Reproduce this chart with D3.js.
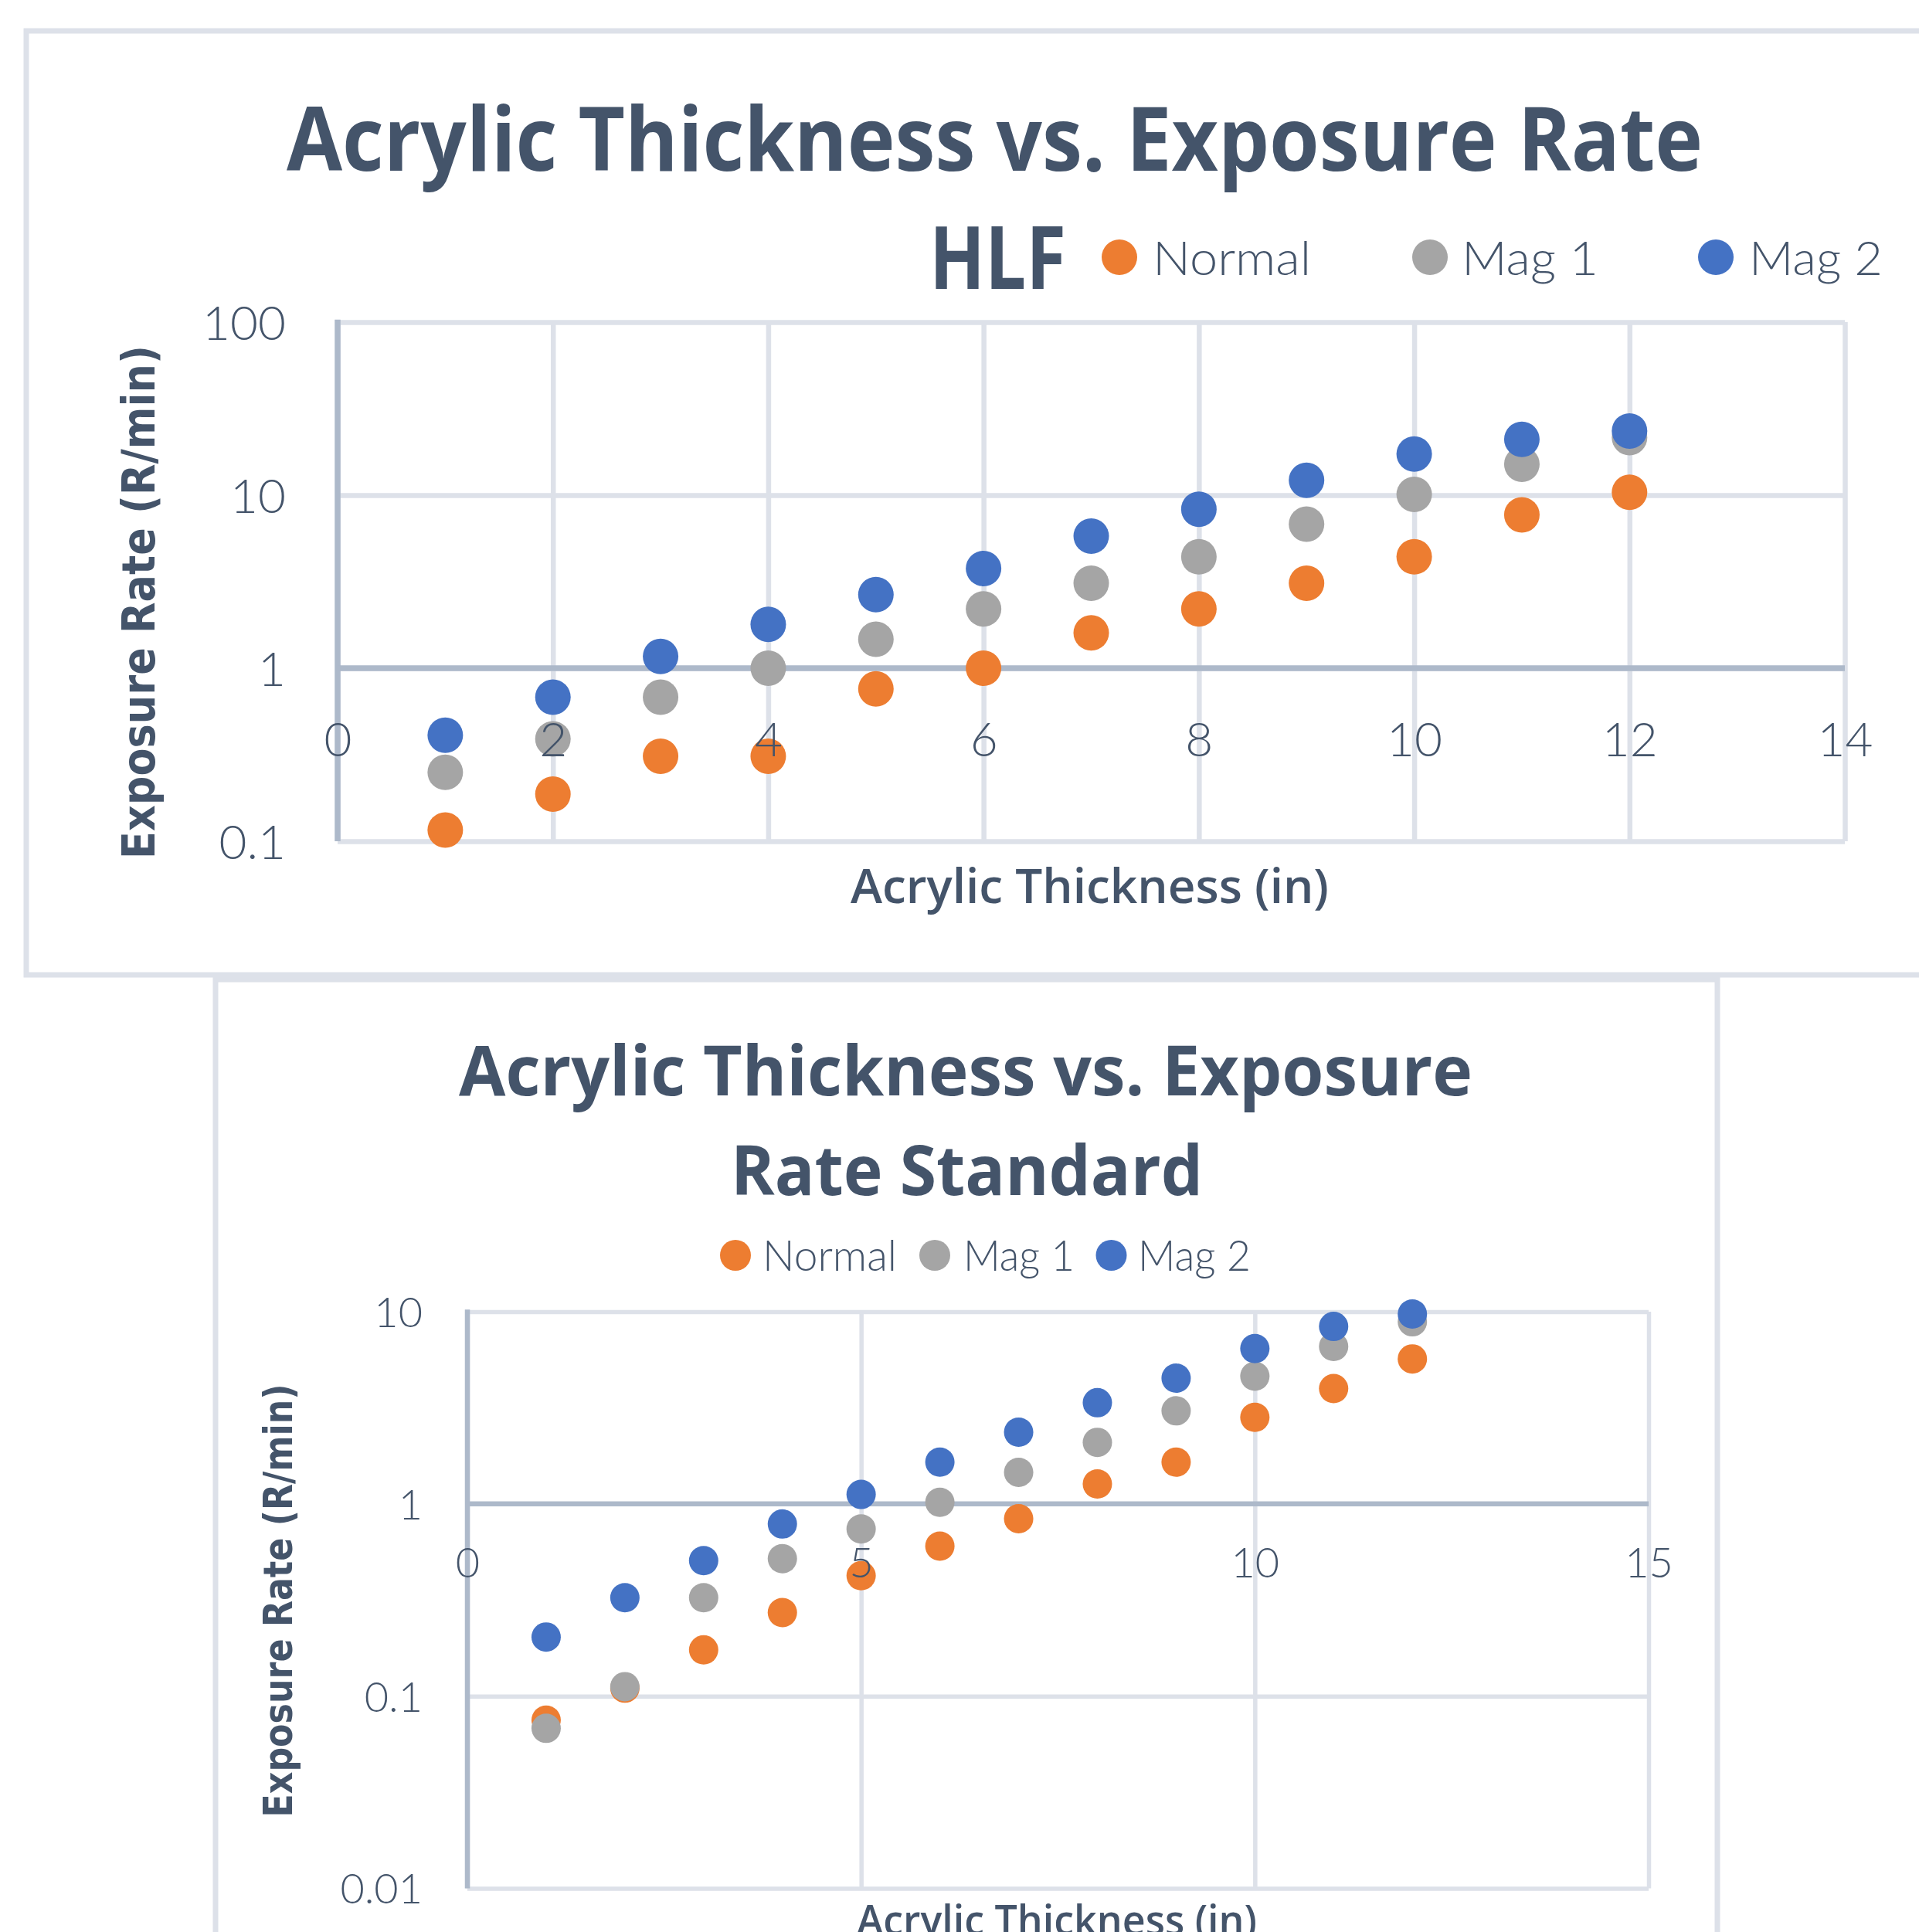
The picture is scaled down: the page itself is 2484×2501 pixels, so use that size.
<!DOCTYPE html>
<html>
<head>
<meta charset="utf-8">
<script src="https://cdn.jsdelivr.net/npm/d3@7"></script>
<style>
  html, body { margin: 0; padding: 0; background: #ffffff; }
  svg { display: block; }
</style>
</head>
<body>
<script>
// ---- data ----
const thickness = [1, 2, 3, 4, 5, 6, 7, 8, 9, 10, 11, 12];
const seriesNames = ["Normal", "Mag 1", "Mag 2"];
const seriesColors = ["#ED7D31", "#A5A5A5", "#4472C4"];

// HLF exposure rates (R/min)
const hlfNormal = [0.116, 0.187, 0.31, 0.31, 0.76, 1.0, 1.6, 2.2, 3.1, 4.4, 7.7, 10.4];
const hlfMag1   = [0.25, 0.39, 0.68, 1.0, 1.47, 2.2, 3.1, 4.4, 6.8, 10.1, 15.1, 21.5];
const hlfMag2   = [0.41, 0.68, 1.17, 1.79, 2.66, 3.77, 5.8, 8.3, 12.2, 17.3, 21.0, 23.5];

// Standard exposure rates (R/min)
const stdNormal = [0.075, 0.11, 0.174, 0.272, 0.423, 0.603, 0.838, 1.27, 1.65, 2.82, 3.98, 5.68];
const stdMag1   = [0.068, 0.112, 0.325, 0.519, 0.741, 1.02, 1.46, 2.09, 3.05, 4.62, 6.59, 8.86];
const stdMag2   = [0.203, 0.325, 0.507, 0.786, 1.12, 1.65, 2.36, 3.36, 4.51, 6.43, 8.38, 9.73];

// axis ticks
const hlfXTicks = [0, 2, 4, 6, 8, 10, 12, 14];
const hlfYTicks = [0.1, 1, 10, 100];
const hlfYTickLabels = ["0.1", "1", "10", "100"];
const stdXTicks = [0, 5, 10, 15];
const stdYTicks = [0.01, 0.1, 1, 10];
const stdYTickLabels = ["0.01", "0.1", "1", "10"];

// ---- styling ----
const W = 2484, H = 2501;
const TEXT = "#44546A";
const GRID = "#DDE1E9";
const AXIS = "#ADB9CA";
const TITLE_FONT = "'Open Sans', 'Noto Sans', sans-serif";
const LIGHT_FONT = "Lato, 'Open Sans', sans-serif";
const YTITLE_FONT = "'DejaVu Sans', Verdana, sans-serif";

const svg = d3.select("body").append("svg")
  .attr("width", W).attr("height", H)
  .attr("viewBox", `0 0 ${W} ${H}`);

svg.append("rect").attr("width", W).attr("height", H).attr("fill", "#ffffff");

function addText(parent, str, o) {
  const t = parent.append("text")
    .attr("x", o.x).attr("y", o.y)
    .attr("fill", TEXT)
    .attr("font-family", o.family)
    .attr("font-size", o.size)
    .attr("font-weight", o.weight || 400)
    .attr("text-anchor", o.anchor || "start")
    .text(str);
  if (o.length) t.attr("textLength", o.length).attr("lengthAdjust", "spacingAndGlyphs");
  if (o.transform) t.attr("transform", o.transform);
  return t;
}

// chart frames
svg.append("rect")
  .attr("x", 34).attr("y", 40).attr("width", 2620).attr("height", 1222)
  .attr("fill", "#ffffff").attr("stroke", GRID).attr("stroke-width", 7);
svg.append("rect")
  .attr("x", 279).attr("y", 1268).attr("width", 1944).attr("height", 1400)
  .attr("fill", "#ffffff").attr("stroke", GRID).attr("stroke-width", 7);

function drawPlot(cfg) {
  const x = d3.scaleLinear().domain(cfg.xDomain).range(cfg.xRange);
  const y = d3.scaleLog().domain(cfg.yDomain).range(cfg.yRange);
  const g = svg.append("g");
  const top = cfg.yRange[1], bottom = cfg.yRange[0];
  const left = cfg.xRange[0], right = cfg.xRange[1];

  // vertical gridlines
  const vg = g.append("g").attr("transform", `translate(0,${bottom})`)
    .call(d3.axisBottom(x).tickValues(cfg.xTicks).tickSize(-(bottom - top)).tickFormat(""));
  vg.select(".domain").remove();
  vg.selectAll("line").attr("stroke", GRID).attr("stroke-width", cfg.gridW);

  // horizontal gridlines
  const hg = g.append("g").attr("transform", `translate(${left},0)`)
    .call(d3.axisLeft(y).tickValues(cfg.yTicks).tickSize(-(right - left)).tickFormat(""));
  hg.select(".domain").remove();
  hg.selectAll("line").attr("stroke", GRID).attr("stroke-width", cfg.gridW);

  // axis lines: value axis at x = 0, category axis crossing at y = 1
  g.append("line")
    .attr("x1", x(cfg.xDomain[0])).attr("x2", x(cfg.xDomain[0]))
    .attr("y1", top - cfg.gridW / 2).attr("y2", bottom)
    .attr("stroke", AXIS).attr("stroke-width", cfg.axisW);
  g.append("line")
    .attr("x1", left).attr("x2", right)
    .attr("y1", y(1)).attr("y2", y(1))
    .attr("stroke", AXIS).attr("stroke-width", cfg.axisW);

  // markers, Normal drawn first so Mag 2 sits on top
  cfg.series.forEach((vals, si) => {
    g.append("g").selectAll("circle")
      .data(thickness.map((t, i) => [t, vals[i]]))
      .join("circle")
      .attr("cx", d => x(d[0]))
      .attr("cy", d => y(d[1]))
      .attr("r", cfg.r)
      .attr("fill", seriesColors[si]);
  });

  // x tick labels hang below the crossing line, drawn over the markers
  const xa = g.append("g").attr("transform", `translate(0,${y(1)})`)
    .call(d3.axisBottom(x).tickValues(cfg.xTicks).tickSize(0).tickFormat(d3.format("d")));
  xa.select(".domain").remove();
  xa.selectAll("text")
    .attr("y", cfg.xLabelOffset).attr("dy", "0.36em")
    .attr("fill", TEXT).attr("font-family", LIGHT_FONT)
    .attr("font-weight", 300).attr("font-size", cfg.tickSize);

  // y tick labels
  const ya = g.append("g").attr("transform", `translate(${left},0)`)
    .call(d3.axisLeft(y).tickValues(cfg.yTicks).tickSize(0)
      .tickFormat((d, i) => cfg.yTickLabels[i]));
  ya.select(".domain").remove();
  ya.selectAll("text")
    .attr("x", -cfg.yLabelPad).attr("dy", "0.36em")
    .attr("fill", TEXT).attr("font-family", LIGHT_FONT)
    .attr("font-weight", 300).attr("font-size", cfg.tickSize);
}

// legend entries
function drawLegend(items) {
  items.forEach((it, i) => {
    svg.append("circle").attr("cx", it.cx).attr("cy", it.cy).attr("r", it.r)
      .attr("fill", seriesColors[i]);
    addText(svg, seriesNames[i], {
      x: it.tx, y: it.ty, size: it.size, family: LIGHT_FONT, weight: 300, length: it.len
    });
  });
}

// ---------- HLF chart ----------
addText(svg, "Acrylic Thickness vs. Exposure Rate", {
  x: 371, y: 221, size: 114, weight: 700, family: TITLE_FONT, length: 1833
});
addText(svg, "HLF", { x: 1203, y: 374, size: 113, weight: 700, family: TITLE_FONT, length: 177 });
drawLegend([
  { cx: 1449, cy: 333, r: 23, tx: 1492, ty: 356, size: 62, len: 205 },
  { cx: 1851, cy: 333, r: 23, tx: 1892, ty: 356, size: 62, len: 177 },
  { cx: 2221, cy: 333, r: 23, tx: 2264, ty: 356, size: 62, len: 173 }
]);
drawPlot({
  xDomain: [0, 14], xRange: [437, 2388],
  yDomain: [0.1, 100], yRange: [1089, 417],
  xTicks: hlfXTicks, yTicks: hlfYTicks, yTickLabels: hlfYTickLabels,
  series: [hlfNormal, hlfMag1, hlfMag2],
  r: 23, gridW: 6.5, axisW: 7.5, tickSize: 62, yLabelPad: 67, xLabelOffset: 92
});
addText(svg, "Exposure Rate (R/min)", {
  x: 0, y: 0, size: 59, weight: 700, family: YTITLE_FONT, anchor: "middle", length: 665,
  transform: "translate(200,779.5) rotate(-90)"
});
addText(svg, "Acrylic Thickness (in)", {
  x: 1410.5, y: 1169, size: 62, weight: 600, family: TITLE_FONT, anchor: "middle", length: 619
});

// ---------- Standard chart ----------
addText(svg, "Acrylic Thickness vs. Exposure", {
  x: 594, y: 1417.5, size: 90, weight: 700, family: TITLE_FONT, length: 1312
});
addText(svg, "Rate Standard", {
  x: 946, y: 1547, size: 90, weight: 700, family: TITLE_FONT, length: 611
});
drawLegend([
  { cx: 952, cy: 1625, r: 20, tx: 987, ty: 1645, size: 55, len: 174 },
  { cx: 1210, cy: 1625, r: 20, tx: 1247, ty: 1645, size: 55, len: 144 },
  { cx: 1438.5, cy: 1625, r: 20, tx: 1473, ty: 1645, size: 55, len: 146 }
]);
drawPlot({
  xDomain: [0, 15], xRange: [605, 2134],
  yDomain: [0.01, 10], yRange: [2444.5, 1698],
  xTicks: stdXTicks, yTicks: stdYTicks, yTickLabels: stdYTickLabels,
  series: [stdNormal, stdMag1, stdMag2],
  r: 19, gridW: 5.5, axisW: 6.5, tickSize: 54, yLabelPad: 58, xLabelOffset: 76
});
addText(svg, "Exposure Rate (R/min)", {
  x: 0, y: 0, size: 52, weight: 700, family: YTITLE_FONT, anchor: "middle", length: 561,
  transform: "translate(378,2072) rotate(-90)"
});
addText(svg, "Acrylic Thickness (in)", {
  x: 1368, y: 2505, size: 54, weight: 600, family: TITLE_FONT, anchor: "middle", length: 518
});
</script>
</body>
</html>
